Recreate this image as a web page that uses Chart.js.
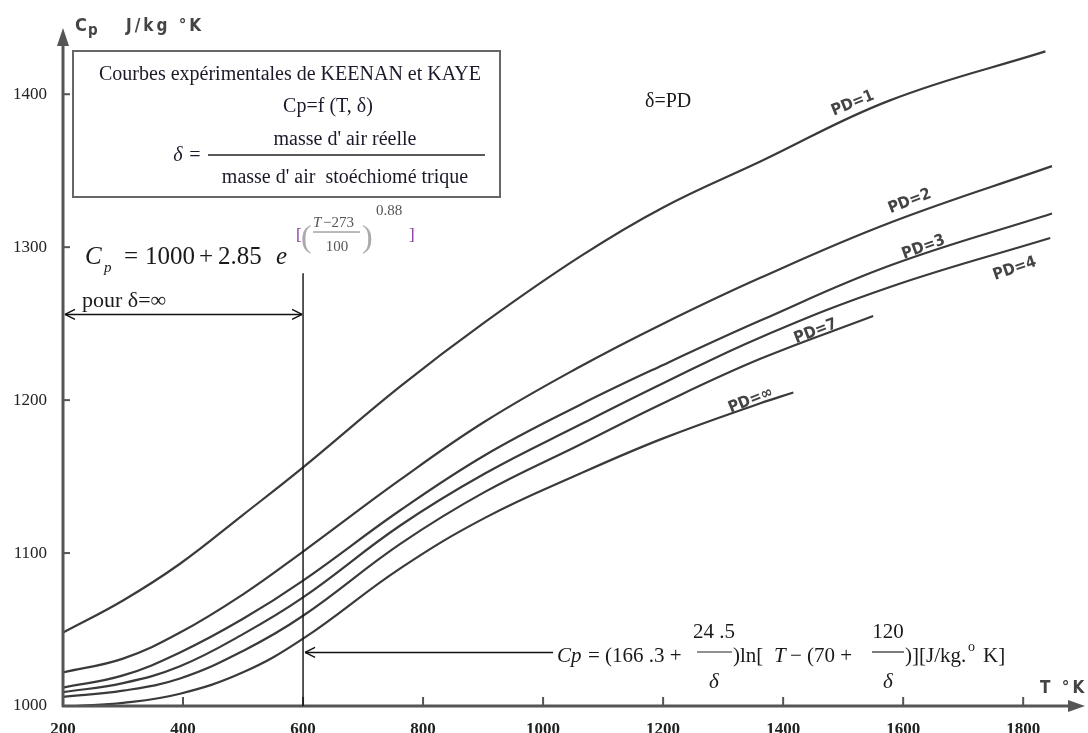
<!DOCTYPE html>
<html>
<head>
<meta charset="utf-8">
<script src="https://cdn.jsdelivr.net/npm/chart.js@4.4.1/dist/chart.umd.min.js"></script>
<style>
html,body{margin:0;padding:0;background:#fff;}
</style>
</head>
<body>
<canvas id="grafik" width="1088" height="733"></canvas>
<script>
// axis ticks
const xTicks = [200,400,600,800,1000,1200,1400,1600,1800];
const yTicks = [1000,1100,1200,1300,1400];

// curves Cp = f(T, delta)
const tPD1  = [200,300,395,500,600,762,903,1062,1200,1362,1578,1837];
const cpPD1 = [1048,1069,1093,1125,1156,1209,1251,1294,1326,1356,1396,1428];

const tPD2  = [200,300,395,500,600,762,903,1062,1200,1362,1578,1848];
const cpPD2 = [1022,1031,1048,1073,1101,1148,1186,1222,1250,1280,1316,1353];

const tPD3  = [200,300,395,500,600,762,903,1062,1200,1362,1578,1848];
const cpPD3 = [1012,1020,1035,1057,1082,1128,1164,1197,1223,1252,1288,1322];

const tPD4  = [200,300,395,500,600,762,903,1062,1200,1362,1578,1845];
const cpPD4 = [1009,1015,1026,1047,1071,1118,1152,1184,1211,1241,1274,1306];

const tPD7  = [200,300,395,500,600,762,903,1062,1200,1362,1550];
const cpPD7 = [1006,1010,1018,1036,1059,1106,1140,1171,1198,1227,1255];

const tPDinf  = [220,300,395,500,600,762,903,1062,1200,1362,1417];
const cpPDinf = [1000,1002,1008,1022,1044,1090,1123,1152,1175,1198,1205];

const curveNames = ['PD=1','PD=2','PD=3','PD=4','PD=7','PD=∞'];
const curveT  = [tPD1,tPD2,tPD3,tPD4,tPD7,tPDinf];
const curveCp = [cpPD1,cpPD2,cpPD3,cpPD4,cpPD7,cpPDinf];

// label anchors (T, Cp) and angle
const labelT   = [1515,1610,1633,1785,1453,1345];
const labelCp  = [1395,1331,1301,1287,1246,1201];
const labelAng = [-22,-21,-20,-19,-21,-22];

const serif = '"Liberation Serif","Times New Roman",serif';
const narrow = '"Liberation Sans Narrow","DejaVu Sans Condensed","Roboto Condensed",sans-serif';

function line(c,x1,y1,x2,y2){ c.beginPath(); c.moveTo(x1,y1); c.lineTo(x2,y2); c.stroke(); }
function txt(c,s,x,y,font,color,align){
  c.font = font; c.fillStyle = color || '#1a1a1a'; c.textAlign = align || 'left';
  c.fillText(s,x,y);
  return c.measureText(s).width;
}

const decor = {
  id:'decor',
  afterDraw(chart){
    const c = chart.ctx, xs = chart.scales.x, ys = chart.scales.y;
    const X = v => xs.getPixelForValue(v), Y = v => ys.getPixelForValue(v);
    const x0 = X(200), y0 = Y(1000);
    c.save();
    c.textBaseline = 'alphabetic';

    // axes with arrows
    c.strokeStyle = '#555'; c.fillStyle = '#555'; c.lineWidth = 3;
    line(c,x0,y0+1,x0,40);
    c.beginPath(); c.moveTo(x0,28); c.lineTo(x0-6,46); c.lineTo(x0+6,46); c.closePath(); c.fill();
    line(c,x0-1,y0,1072,y0);
    c.beginPath(); c.moveTo(1085,y0); c.lineTo(1068,y0-6); c.lineTo(1068,y0+6); c.closePath(); c.fill();
    c.lineWidth = 2;
    xTicks.forEach(v => { if (v > 200) line(c,X(v),y0,X(v),y0-9); });
    yTicks.forEach(v => { if (v > 1000) line(c,x0,Y(v),x0+7,Y(v)); });

    // axis titles
    txt(c,'C',75,31,'bold 18px '+narrow,'#444');
    txt(c,'p',88,35,'bold 15px '+narrow,'#444');
    c.letterSpacing = '3px';
    txt(c,'J/kg °K',126,31,'bold 17px '+narrow,'#444');
    txt(c,'T °K',1040,693,'bold 17px '+narrow,'#444');
    c.letterSpacing = '0px';

    // title box
    c.strokeStyle = '#666'; c.lineWidth = 2;
    c.strokeRect(73,51,427,146);
    txt(c,'Courbes expérimentales de KEENAN et KAYE',290,80,'20px '+serif,'#1a1a2a','center');
    txt(c,'Cp=f (T, δ)',328,112,'20px '+serif,'#1a1a2a','center');
    txt(c,'δ',178,161,'italic 20px '+serif,'#1a1a2a','center');
    txt(c,'=',195,161,'20px '+serif,'#1a1a2a','center');
    c.strokeStyle = '#222'; c.lineWidth = 1.3;
    line(c,208,155,485,155);
    txt(c,"masse d' air réelle",345,145,'20px '+serif,'#1a1a2a','center');
    txt(c,"masse d' air  stoéchiomé trique",345,183,'20px '+serif,'#1a1a2a','center');

    txt(c,'δ=PD',645,107,'20px '+serif,'#1a1a1a');

    // Cp formula for delta = infinity
    const big = '25px '+serif;
    txt(c,'C',85,264,'italic 25px '+serif,'#1a1a1a');
    txt(c,'p',104,272,'italic 15px '+serif,'#1a1a1a');
    txt(c,'=',124,264,big,'#1a1a1a');
    txt(c,'1000',145,264,big,'#1a1a1a');
    txt(c,'+',199,264,big,'#1a1a1a');
    txt(c,'2.85',218,264,big,'#1a1a1a');
    txt(c,'e',276,264,'italic 25px '+serif,'#1a1a1a');
    txt(c,'[',296,240,'17px '+serif,'#8a3aa0');
    txt(c,'(',301,247,'32px '+serif,'#aaa');
    txt(c,'T',313,227,'italic 15px '+serif,'#555');
    txt(c,'−273',323,227,'15px '+serif,'#555');
    c.strokeStyle = '#777'; c.lineWidth = 1;
    line(c,313,232,360,232);
    txt(c,'100',337,251,'15px '+serif,'#555','center');
    txt(c,')',362,247,'32px '+serif,'#aaa');
    txt(c,'0.88',376,215,'15px '+serif,'#555');
    txt(c,']',409,240,'17px '+serif,'#8a3aa0');

    txt(c,'pour δ=∞',82,307,'22px '+serif,'#1a1a1a');

    // vertical marker at T = 600 and arrows
    c.strokeStyle = '#111'; c.lineWidth = 1.4;
    const xv = X(600);
    line(c,xv,Y(1283),xv,y0);
    const ya = Y(1256);
    line(c,x0+2,ya,xv-1,ya);
    line(c,x0+2,ya,x0+12,ya-5); line(c,x0+2,ya,x0+12,ya+5);
    line(c,xv-1,ya,xv-11,ya-5); line(c,xv-1,ya,xv-11,ya+5);
    const yb = Y(1035);
    line(c,xv+2,yb,553,yb);
    line(c,xv+2,yb,xv+12,yb-5); line(c,xv+2,yb,xv+12,yb+5);

    // Cp formula for any delta
    const f = '21px '+serif, fi = 'italic 21px '+serif, col = '#1a1a1a';
    txt(c,'Cp',557,662,fi,col);
    txt(c,'= (166 .3 +',588,662,f,col);
    txt(c,'24 .5',714,638,f,col,'center');
    c.strokeStyle = '#222'; c.lineWidth = 1.2;
    line(c,697,652,732,652);
    txt(c,'δ',714,688,fi,col,'center');
    txt(c,')ln[',733,662,f,col);
    txt(c,'T',774,662,fi,col);
    txt(c,'− (70 +',790,662,f,col);
    txt(c,'120',888,638,f,col,'center');
    line(c,872,652,904,652);
    txt(c,'δ',888,688,fi,col,'center');
    txt(c,')][J/kg.',905,662,f,col);
    txt(c,'o',968,651,'14px '+serif,col);
    txt(c,'K]',983,662,f,col);

    // curve labels
    for (let i = 0; i < curveNames.length; i++){
      c.save();
      c.translate(X(labelT[i]),Y(labelCp[i]));
      c.rotate(labelAng[i]*Math.PI/180);
      txt(c,curveNames[i],0,6,'bold 16px '+narrow,'#444','center');
      c.restore();
    }
    c.restore();
  }
};

const datasets = curveNames.map((name,i) => ({
  label: name,
  data: curveT[i].map((t,j) => ({x:t, y:curveCp[i][j]})),
  borderColor: '#3a3a3a',
  borderWidth: 2.2,
  pointRadius: 0,
  fill: false,
  tension: 0.4
}));

const ctx = document.getElementById('grafik');
const chart = new Chart(ctx,{
  type:'line',
  data:{datasets: datasets},
  options:{
    responsive:false,
    animation:false,
    devicePixelRatio:1,
    layout:{padding:{top:30,right:6,left:0,bottom:0}},
    plugins:{legend:{display:false},tooltip:{enabled:false}},
    scales:{
      x:{
        type:'linear', min:200, max:1898,
        grid:{display:false}, border:{display:false},
        afterFit(s){ s.height = 27; },
        afterBuildTicks(s){ s.ticks = xTicks.map(v => ({value:v})); },
        ticks:{padding:5, color:'#222', maxRotation:0, autoSkip:false,
          callback: v => String(v),
          font:{family:'Liberation Serif', size:17, weight:'bold'}}
      },
      y:{
        type:'linear', min:1000, max:1442,
        grid:{display:false}, border:{display:false},
        afterFit(s){ s.width = 63; },
        afterBuildTicks(s){ s.ticks = yTicks.map(v => ({value:v})); },
        ticks:{padding:8, color:'#222',
          callback: v => String(v),
          font:{family:'Liberation Serif', size:17}}
      }
    }
  },
  plugins:[decor]
});
</script>
</body>
</html>
